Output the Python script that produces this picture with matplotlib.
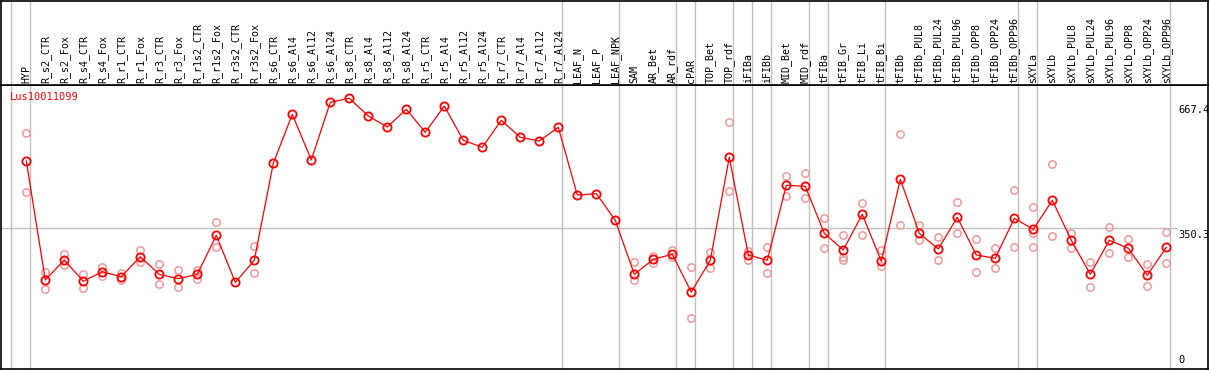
import numpy as np
import matplotlib
matplotlib.use("Agg")
import matplotlib.pyplot as plt

gene = "Lus10011099"

groups = [
    ["HYP"],
    ["R_s2_CTR", "R_s2_Fox", "R_s4_CTR", "R_s4_Fox", "R_r1_CTR", "R_r1_Fox",
     "R_r3_CTR", "R_r3_Fox", "R_r1s2_CTR", "R_r1s2_Fox", "R_r3s2_CTR", "R_r3s2_Fox",
     "R_s6_CTR", "R_s6_Al4", "R_s6_Al12", "R_s6_Al24", "R_s8_CTR", "R_s8_Al4",
     "R_s8_Al12", "R_s8_Al24", "R_r5_CTR", "R_r5_Al4", "R_r5_Al12", "R_r5_Al24",
     "R_r7_CTR", "R_r7_Al4", "R_r7_Al12", "R_r7_Al24"],
    ["LEAF_N", "LEAF_P", "LEAF_NPK"],
    ["SAM", "AR_Bet", "AR_rdf"],
    ["cPAR"],
    ["TOP_Bet", "TOP_rdf"],
    ["iFIBa"],
    ["iFIBb"],
    ["MID_Bet", "MID_rdf"],
    ["tFIBa"],
    ["tFIB_Gr", "tFIB_Li", "tFIB_Bi"],
    ["tFIBb", "tFIBb_PUL8", "tFIBb_PUL24", "tFIBb_PUL96", "tFIBb_OPP8",
     "tFIBb_OPP24", "tFIBb_OPP96"],
    ["sXYLa"],
    ["sXYLb", "sXYLb_PUL8", "sXYLb_PUL24", "sXYLb_PUL96", "sXYLb_OPP8",
     "sXYLb_OPP24", "sXYLb_OPP96"],
]
samples = [s for g in groups for s in g]

means = [
    521.1,
    219.2, 269.9, 215.9, 240.2, 227.5, 278.3, 233.6, 222.5, 233.6, 332.6, 213.3, 269.2,
    515.2, 639.5, 523.6, 670.0, 680.1, 635.2, 607.3, 652.2, 593.9, 660.6, 573.6, 555.8,
    624.3, 581.2, 571.8, 606.5,
    434.8, 438.1, 370.6,
    233.6, 271.7, 284.4,
    188.7,
    269.2, 530.4,
    282.6,
    269.2,
    459.4, 456.9,
    337.6,
    295.3, 385.8, 266.6,
    474.6, 337.6, 297.8, 378.2, 282.6, 274.2, 375.7,
    347.8,
    421.4, 319.9, 233.6, 319.9, 299.6, 231.1, 302.1,
]

replicates = [
    [591.3, 441.7],
    [240.2, 195.6], [285.1, 257.2], [233.6, 198.1], [252.9, 229.3], [237.7, 219.2],
    [295.3, 265.6], [259.0, 208.3], [243.8, 200.7], [244.5, 221.0], [365.6, 302.1],
    [], [305.4, 236.9],
    [], [], [], [], [], [], [], [], [], [], [], [], [], [], [], [],
    [], [], [],
    [264.1, 219.2], [280.1, 263.1], [296.0, 276.8],
    [251.4, 122.8],
    [289.4, 248.9], [620.0, 444.2],
    [293.5, 269.9],
    [302.1, 236.9],
    [483.8, 431.5], [489.9, 426.4],
    [375.7, 300.4],
    [332.6, 278.3, 269.9], [413.7, 332.6], [295.3, 254.0],
    [588.8, 357.9], [357.9, 319.9], [327.5, 269.2], [416.3, 337.6], [322.4, 238.7],
    [299.6, 248.9], [446.7, 302.1],
    [403.6, 337.6, 302.1],
    [512.7, 330.0], [337.6, 299.6], [264.1, 200.7], [352.9, 286.9], [322.4, 276.8],
    [259.0, 203.2], [340.2, 261.5],
]

ytick_values = [667.4, 350.3, 0]

W, H = 1209, 370
fig = plt.figure(figsize=(W / 100, H / 100), dpi=100)
font = "DejaVu Sans Mono"

# pixel layout: header 0..85 px from top, plot 85..369
x0_px, step_px = 26.3, 19.0
xlim = ((1 - x0_px) / step_px, (1208 - x0_px) / step_px)
y0_px, scale = 366.4, 0.3942
ylim = ((y0_px - 369) / scale, (y0_px - 85) / scale)

ax = fig.add_axes([1 / W, 1 / H, 1207 / W, 284 / H])
hax = fig.add_axes([1 / W, 285 / H, 1207 / W, 84.5 / H])

for a in (ax, hax):
    a.set_xlim(*xlim)
    a.set_xticks([])
    a.set_yticks([])
    for sp in a.spines.values():
        sp.set_color("black")
        sp.set_linewidth(1.2)
ax.set_ylim(*ylim)
hax.set_ylim(0, 84.5)

x = np.arange(len(samples))

# group separators
bounds = np.cumsum([0] + [len(g) for g in groups]) - 1
for b in bounds:
    for a in (ax, hax):
        a.axvline(b + 0.22, color="#c0c0c0", lw=1.0, zorder=1)

# horizontal reference line
label_x = (1178 - x0_px) / step_px
ax.plot([xlim[0], label_x - 0.1], [350.3, 350.3], color="#c0c0c0", lw=1.0, zorder=1)

# replicates
for i, reps in enumerate(replicates):
    if reps:
        ax.plot([x[i]] * len(reps), reps, linestyle="none", marker="o",
                markersize=5.3, markerfacecolor="none", markeredgecolor="#f09898",
                markeredgewidth=1.1, zorder=2)

ax.plot(x, means, color="red", lw=0.9, marker="o", markersize=5.9,
        markerfacecolor="none", markeredgecolor="red", markeredgewidth=1.3, zorder=3)

# header labels
for i, s in enumerate(samples):
    hax.text(x[i], 2, s, rotation=90, ha="center", va="bottom",
             fontsize=7.2, family=font, color="black")

ax.text(xlim[0] + 0.45, 683, gene, color="red", fontsize=7.5, family=font,
        ha="left", va="center")

for v in ytick_values:
    if v == 0:
        ax.text(label_x, v + 3, "0", fontsize=7.5, family=font, ha="left", va="bottom")
    else:
        ax.text(label_x, v - 4, f"{v}", fontsize=7.5, family=font, ha="left", va="top",
                clip_on=True)

fig.savefig("out.png", dpi=100)
